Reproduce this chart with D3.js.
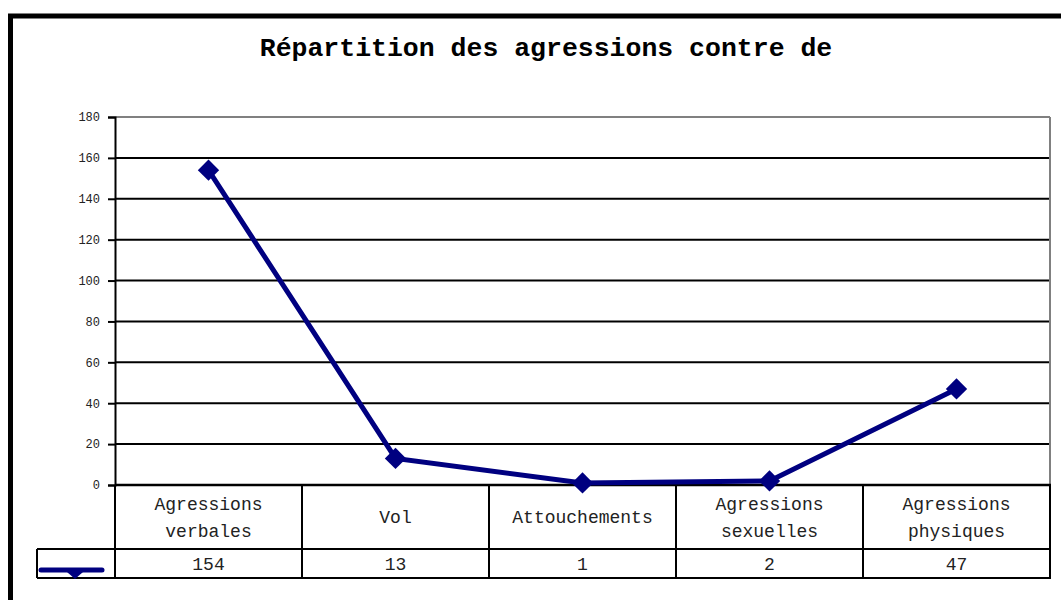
<!DOCTYPE html>
<html><head><meta charset="utf-8">
<script src="https://cdn.jsdelivr.net/npm/d3@7"></script>
<style>
body{margin:0;background:#fff;}
svg{display:block;}
</style></head>
<body>
<svg id="c" width="1061" height="600"></svg>
<script>
const title = "Répartition des agressions contre de";
const categories = [["Agressions","verbales"],["Vol"],["Attouchements"],["Agressions","sexuelles"],["Agressions","physiques"]];
const values = [154, 13, 1, 2, 47];
const yTicks = [0,20,40,60,80,100,120,140,160,180];

const svg = d3.select("#c");
const L = 115, R = 1050, T = 117, B = 485;
const rowCatBottom = 549, rowValBottom = 578, legendLeft = 37;
const navy = "#000080";
const mono = "'Liberation Mono','Courier New',monospace";

// outer frame (cropped at right/bottom)
svg.append("rect").attr("x",10.5).attr("y",16).attr("width",1200).attr("height",800)
  .attr("fill","none").attr("stroke","#000").attr("stroke-width",5);

svg.append("text").attr("x",546).attr("y",56).attr("text-anchor","middle")
  .attr("font-family",mono).attr("font-weight","bold").attr("font-size",26.5).text(title);

const keys = categories.map(c=>c.join(" "));
const x = d3.scaleBand().domain(keys).range([L,R]).padding(0);
const y = d3.scaleLinear().domain([0,180]).range([B,T]);

// gridlines
svg.append("g").selectAll("line").data(yTicks).join("line")
  .attr("x1",L).attr("x2",R).attr("y1",d=>y(d)).attr("y2",d=>y(d))
  .attr("stroke",d=>d===180?"#808080":"#000").attr("stroke-width",2);
// right plot border
svg.append("line").attr("x1",R).attr("x2",R).attr("y1",T).attr("y2",B)
  .attr("stroke","#808080").attr("stroke-width",2);

// y axis
const ya = svg.append("g").attr("transform",`translate(${L},0)`)
  .call(d3.axisLeft(y).tickValues(yTicks).tickSize(7).tickPadding(8));
ya.select(".domain").attr("stroke","#000").attr("stroke-width",2);
ya.selectAll(".tick line").attr("stroke","#000").attr("stroke-width",2);
ya.selectAll(".tick text").attr("font-family",mono).attr("font-size",12).attr("fill","#222");

// data table
const tbl = svg.append("g").attr("stroke","#000").attr("stroke-width",2);
tbl.append("line").attr("x1",L).attr("x2",L).attr("y1",B).attr("y2",rowValBottom);
keys.forEach(k=>{
  const xr = x(k)+x.bandwidth();
  tbl.append("line").attr("x1",xr).attr("x2",xr).attr("y1",B).attr("y2",rowValBottom);
});
tbl.append("line").attr("x1",legendLeft).attr("x2",R+1).attr("y1",rowCatBottom).attr("y2",rowCatBottom);
tbl.append("line").attr("x1",legendLeft).attr("x2",R+1).attr("y1",rowValBottom).attr("y2",rowValBottom);
tbl.append("line").attr("x1",legendLeft).attr("x2",legendLeft).attr("y1",rowCatBottom).attr("y2",rowValBottom);
// x axis line over
svg.append("line").attr("x1",L).attr("x2",R+1).attr("y1",B).attr("y2",B).attr("stroke","#000").attr("stroke-width",2.5);

const catG = svg.append("g").attr("font-family",mono).attr("font-size",18).attr("fill","#222").attr("text-anchor","middle");
categories.forEach((c,i)=>{
  const cx = x(keys[i])+x.bandwidth()/2;
  const mid = (B+rowCatBottom)/2;
  const t = catG.append("text").attr("x",cx);
  c.forEach((ln,j)=>{
    t.append("tspan").attr("x",cx).attr("y",mid + (j-(c.length-1)/2)*27).attr("dy","0.35em").text(ln);
  });
});
svg.append("g").attr("font-family",mono).attr("font-size",18).attr("fill","#222").attr("text-anchor","middle")
  .selectAll("text").data(values).join("text")
  .attr("x",(d,i)=>x(keys[i])+x.bandwidth()/2).attr("y",(rowCatBottom+rowValBottom)/2).attr("dy","0.35em").text(d=>d);

// legend key
const lg = svg.append("g");
lg.append("line").attr("x1",41).attr("x2",102).attr("y1",570).attr("y2",570)
  .attr("stroke",navy).attr("stroke-width",5).attr("stroke-linecap","round");
lg.append("path").attr("d","M67,572 L83,572 L75,579 Z").attr("fill",navy);

// series line
const pts = values.map((v,i)=>[x(keys[i])+x.bandwidth()/2, y(v)]);
svg.append("path").attr("d",d3.line()(pts)).attr("fill","none").attr("stroke",navy).attr("stroke-width",5);
const sym = d3.symbol().type(d3.symbolDiamond2).size(290);
svg.append("g").selectAll("path").data(pts).join("path")
  .attr("transform",d=>`translate(${d[0]},${d[1]})`)
  .attr("d",sym).attr("fill",navy);
</script>
</body></html>
